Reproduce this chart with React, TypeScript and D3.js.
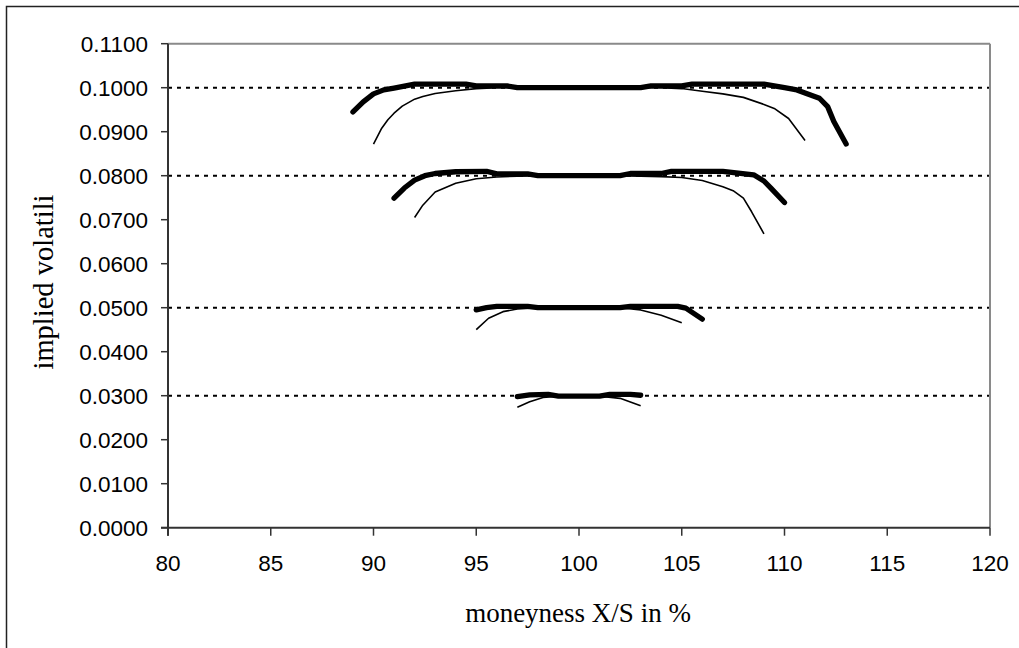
import React from 'react';
import * as d3 from 'd3';

const xTicks = [80, 85, 90, 95, 100, 105, 110, 115, 120];
const yTicks = [0, 0.01, 0.02, 0.03, 0.04, 0.05, 0.06, 0.07, 0.08, 0.09, 0.1, 0.11];
const refLevels = [0.03, 0.05, 0.08, 0.1];

const thick10X = [89, 89.5, 90, 90.5, 91, 92, 94.5, 95, 96.5, 97, 103, 103.5, 105, 105.5, 109, 110, 110.6, 111.7, 112.1, 112.4, 113];
const thick10Y = [0.0945, 0.0968, 0.0986, 0.0995, 0.0999, 0.1008, 0.1008, 0.1004, 0.1004, 0.1, 0.1, 0.1004, 0.1004, 0.1008, 0.1008, 0.1, 0.0995, 0.0976, 0.0957, 0.0923, 0.0872];
const thin10X = [90, 90.4, 90.7, 91, 91.4, 92, 92.4, 93, 94, 95, 96, 104, 105, 106, 107, 108, 109, 109.5, 110.2, 111];
const thin10Y = [0.0872, 0.0908, 0.0927, 0.0942, 0.0958, 0.0974, 0.098, 0.0987, 0.0993, 0.0998, 0.1, 0.1, 0.0998, 0.0992, 0.0986, 0.0978, 0.0962, 0.0953, 0.093, 0.088];

const thick08X = [91, 91.5, 92, 92.5, 93, 94, 95.5, 96, 97.5, 98, 102, 102.5, 104, 104.5, 107, 108.5, 109, 109.35, 110];
const thick08Y = [0.0749, 0.0772, 0.079, 0.08, 0.0805, 0.0809, 0.081, 0.0804, 0.0804, 0.08, 0.08, 0.0805, 0.0805, 0.081, 0.081, 0.0802, 0.0788, 0.0771, 0.0739];
const thin08X = [92, 92.4, 93, 94, 95, 96, 97, 98, 102, 103, 104, 105, 106, 107, 107.5, 108, 108.4, 109];
const thin08Y = [0.0705, 0.0733, 0.0763, 0.0783, 0.0793, 0.0797, 0.0799, 0.08, 0.08, 0.0799, 0.0798, 0.0796, 0.0789, 0.0775, 0.0766, 0.0749, 0.0718, 0.0668];

const thick05X = [95, 95.5, 96, 97.5, 98, 102, 102.5, 104.8, 105.2, 106];
const thick05Y = [0.0495, 0.05, 0.0503, 0.0503, 0.05, 0.05, 0.0503, 0.0503, 0.0499, 0.0474];
const thin05X = [95, 95.6, 96.3, 97, 97.6, 98, 102, 103, 104, 105];
const thin05Y = [0.045, 0.0476, 0.0491, 0.0497, 0.0499, 0.05, 0.05, 0.0495, 0.0483, 0.0466];

const thick03X = [97, 97.6, 98.5, 99, 101, 101.5, 102.5, 103];
const thick03Y = [0.0298, 0.0302, 0.0303, 0.0299, 0.0299, 0.0303, 0.0303, 0.0301];
const thin03X = [97, 97.6, 98.25, 99, 101, 102, 103];
const thin03Y = [0.0274, 0.0286, 0.0296, 0.0299, 0.0299, 0.0294, 0.0277];

const thickSeries = [
  [thick10X, thick10Y],
  [thick08X, thick08Y],
  [thick05X, thick05Y],
  [thick03X, thick03Y],
];
const thinSeries = [
  [thin10X, thin10Y],
  [thin08X, thin08Y],
  [thin05X, thin05Y],
  [thin03X, thin03Y],
];

const W = 1019;
const H = 648;
const L = 168;
const R = 990;
const T = 43.7;
const B = 527.7;

export default function App() {
  const x = d3.scaleLinear().domain([80, 120]).range([L, R]);
  const y = d3.scaleLinear().domain([0, 0.11]).range([B, T]);
  const line = d3
    .line<[number, number]>()
    .x((d) => x(d[0]))
    .y((d) => y(d[1]));
  const toPts = (xs: number[], ys: number[]) => xs.map((v, i) => [v, ys[i]] as [number, number]);
  const fmt = d3.format('.4f');
  const sans = 'Liberation Sans, Arial, sans-serif';
  const serif = 'Liberation Serif, Times New Roman, serif';

  return (
    <svg width={W} height={H} style={{ position: 'absolute', left: 0, top: 0, background: '#fff' }}>
      <rect x={0} y={0} width={W} height={H} fill="#fff" />
      <rect x={6.5} y={6.5} width={W + 20} height={H + 20} fill="none" stroke="#222" strokeWidth={1.5} />
      {refLevels.map((v) => (
        <line key={v} x1={L} x2={R} y1={y(v)} y2={y(v)} stroke="#000" strokeWidth={2} strokeDasharray="4,5" />
      ))}
      <line x1={L} x2={R} y1={T} y2={T} stroke="#8a8a8a" strokeWidth={2} />
      <line x1={R} x2={R} y1={T} y2={B} stroke="#8a8a8a" strokeWidth={2} />
      <line x1={L} x2={L} y1={T} y2={B + 8} stroke="#333" strokeWidth={2} />
      <line x1={L - 7} x2={R} y1={B} y2={B} stroke="#333" strokeWidth={2} />
      {yTicks.map((v) => (
        <g key={v}>
          <line x1={L - 7} x2={L} y1={y(v)} y2={y(v)} stroke="#333" strokeWidth={1.5} />
          <text x={148} y={y(v) + 8} textAnchor="end" fontFamily={sans} fontSize={22.5} fill="#000">
            {fmt(v)}
          </text>
        </g>
      ))}
      {xTicks.map((v) => (
        <g key={v}>
          <line x1={x(v)} x2={x(v)} y1={B} y2={B + 8} stroke="#333" strokeWidth={1.5} />
          <text x={x(v)} y={570.5} textAnchor="middle" fontFamily={sans} fontSize={22.5} fill="#000">
            {v}
          </text>
        </g>
      ))}
      {thinSeries.map(([xs, ys], i) => (
        <path key={'thin' + i} d={line(toPts(xs, ys)) || ''} fill="none" stroke="#000" strokeWidth={1.6} strokeLinejoin="round" />
      ))}
      {thickSeries.map(([xs, ys], i) => (
        <path key={'thick' + i} d={line(toPts(xs, ys)) || ''} fill="none" stroke="#000" strokeWidth={5.3} strokeLinejoin="round" strokeLinecap="round" />
      ))}
      <text x={578} y={621.5} textAnchor="middle" fontFamily={serif} fontSize={27} fill="#000">
        moneyness X/S in %
      </text>
      <text transform="translate(53,282) rotate(-90)" textAnchor="middle" fontFamily={serif} fontSize={28.5} fill="#000">
        implied volatili
      </text>
    </svg>
  );
}
